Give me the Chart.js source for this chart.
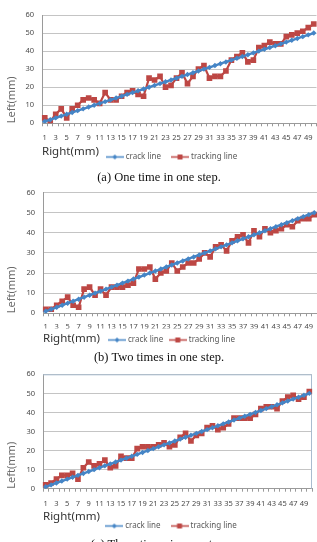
<!DOCTYPE html>
<html>
<head>
<meta charset="utf-8">
<script src="https://cdn.jsdelivr.net/npm/chart.js@4/dist/chart.umd.min.js"></script>
<style>
  body { margin: 0; width: 317px; height: 542px; overflow: hidden; background: #fff; position: relative; }
  canvas { position: absolute; left: 0; }
  .cap { position: absolute; left: 0; width: 318px; text-align: center; font: 12.5px "Liberation Serif", serif; color: #111; line-height: 16px; }
</style>
</head>
<body>
<canvas id="chartA" width="321" height="171" style="top:0px"></canvas>
<canvas id="chartB" width="321" height="174" style="top:180px"></canvas>
<canvas id="chartC" width="320" height="180" style="top:360px"></canvas>
<div class="cap" style="top:169px">(a) One time in one step.</div>
<div class="cap" style="top:349px">(b) Two times in one step.</div>
<div class="cap" style="top:536px">(c) Three times in one step.</div>
<script>
// x categories (Right, mm)
const categories = [1,2,3,4,5,6,7,8,9,10,11,12,13,14,15,16,17,18,19,20,21,22,23,24,25,
                    26,27,28,29,30,31,32,33,34,35,36,37,38,39,40,41,42,43,44,45,46,47,48,49,50];
// crack line, same in all three charts
const crackLine = [1,2,3,4,5,6,7,8,9,10,11,12,13,14,15,16,17,18,19,20,21,22,23,24,25,
                   26,27,28,29,30,31,32,33,34,35,36,37,38,39,40,41,42,43,44,45,46,47,48,49,50];
// tracking line
const trackingOne = [3,1,5,8,3,8,10,13,14,13,11,17,13,13,15,17,18,16,15,25,24,26,20,21,25,
                     28,22,26,30,32,25,26,26,29,35,37,39,34,35,42,43,45,44,44,48,49,50,51,53,55];
const trackingTwo = [2,2,4,6,8,4,3,12,13,9,12,9,13,13,13,14,15,22,22,23,17,20,21,25,21,
                     23,25,25,27,30,28,33,34,31,36,38,39,35,41,38,42,40,41,42,44,43,46,47,47,49];
const trackingThree = [2,3,5,7,7,8,5,11,14,12,13,15,11,12,17,16,16,21,22,22,22,23,24,22,23,
                       27,29,25,28,29,32,33,31,32,34,37,37,37,37,39,42,43,43,42,46,48,49,47,48,51];
const yTicks = [0, 10, 20, 30, 40, 50, 60];

const BLUE = '#4585c6';
const RED = '#bd4744';
const FONT = '"Noto Sans", sans-serif';

// legend icon: short line with the marker in the middle (like excel)
function legendIcon(color, square) {
    const c = document.createElement('canvas');
    c.width = 18; c.height = 7;
    const g = c.getContext('2d');
    g.strokeStyle = color; g.lineWidth = 1.5;
    g.beginPath(); g.moveTo(0, 3.5); g.lineTo(18, 3.5); g.stroke();
    g.fillStyle = color;
    if (square) {
        g.fillRect(6.5, 1, 5, 5);
    } else {
        g.beginPath(); g.moveTo(9, 1); g.lineTo(11.5, 3.5); g.lineTo(9, 6); g.lineTo(6.5, 3.5); g.closePath(); g.fill();
    }
    return c;
}
const icons = [legendIcon(BLUE, false), legendIcon(RED, true)];

// border round the plot area (only chart c has it)
const boxPlugin = {
    id: 'plotBox',
    beforeDatasetsDraw(chart) {
        const a = chart.chartArea, ctx = chart.ctx;
        ctx.save();
        ctx.strokeStyle = '#a9bccf';
        ctx.lineWidth = 1;
        ctx.beginPath();
        ctx.moveTo(a.left, a.top + 0.5); ctx.lineTo(a.right - 0.5, a.top + 0.5); ctx.lineTo(a.right - 0.5, a.bottom);
        ctx.stroke();
        ctx.restore();
    }
};

function makeChart(id, tracking, g) {
    const scales = {
        x: {
            offset: true,
            afterFit: (s) => { s.height = g.xh; },
            grid: { drawOnChartArea: false, drawTicks: true, tickLength: 3, color: '#9a9a9a', offset: true },
            border: { display: true, color: '#9a9a9a' },
            ticks: {
                autoSkip: false, maxRotation: 0, padding: g.tickPad,
                color: '#4a4a4a', font: { family: FONT, size: 7.5 },
                callback: (v, i) => (i % 2 === 0 ? categories[i] : '')
            },
            title: {
                display: true, text: 'Right(mm)', align: 'start',
                color: '#333', font: { family: FONT, size: 11.5 },
                padding: { top: 0, bottom: g.xTitlePad }
            }
        },
        y: {
            min: 0, max: 60,
            afterFit: (s) => { s.width = g.yw; },
            afterBuildTicks: (s) => { s.ticks = yTicks.map(v => ({ value: v })); },
            grid: { color: '#c4c4c4', drawTicks: false },
            border: { display: true, color: '#9a9a9a' },
            ticks: { padding: 8, color: '#4a4a4a', font: { family: FONT, size: 7.5 } },
            title: {
                display: true, text: 'Left(mm)', align: 'start',
                color: '#6a6a6a', font: { family: FONT, size: 11 },
                padding: { top: -18.6, bottom: 0 }
            }
        }
    };
    if (g.rightGap) {
        // empty strip on the right so the plot stops short of the canvas edge
        scales.y2 = {
            position: 'right',
            afterFit: (s) => { s.width = g.rightGap; },
            grid: { display: false },
            border: { display: false },
            ticks: { display: false }
        };
    }
    return new Chart(document.getElementById(id), {
        type: 'line',
        data: {
            labels: categories,
            datasets: [{
                label: 'crack line',
                data: crackLine,
                borderColor: BLUE,
                backgroundColor: BLUE,
                borderWidth: 2.4,
                pointStyle: 'rectRot',
                pointRadius: 2.7,
                pointBorderWidth: 0,
                tension: 0
            }, {
                label: 'tracking line',
                data: tracking,
                borderColor: RED,
                backgroundColor: RED,
                borderWidth: 2.2,
                pointStyle: 'rect',
                pointRadius: 4,
                pointBorderWidth: 0,
                tension: 0
            }]
        },
        options: {
            responsive: false,
            animation: false,
            layout: { padding: { left: 24, top: g.padTop, right: 0, bottom: 0 } },
            plugins: {
                tooltip: { enabled: false },
                legend: {
                    position: 'bottom',
                    align: 'center',
                    labels: {
                        usePointStyle: true,
                        pointStyleWidth: 14,
                        padding: g.legendPad,
                        color: '#595959',
                        font: { family: FONT, size: 8 },
                        generateLabels: (chart) => chart.data.datasets.map((ds, i) => ({
                            text: ds.label,
                            pointStyle: icons[i],
                            fillStyle: ds.borderColor,
                            strokeStyle: ds.borderColor,
                            lineWidth: 0,
                            hidden: false,
                            datasetIndex: i,
                            fontColor: '#595959'
                        }))
                    }
                }
            },
            scales: scales
        },
        plugins: g.box ? [boxPlugin] : []
    });
}

makeChart('chartA', trackingOne,
    { padTop: 15, yw: 18, xh: 17.7, tickPad: 7.2, xTitlePad: -17.9, legendPad: 12, rightGap: 0, box: false });
makeChart('chartB', trackingTwo,
    { padTop: 12.3, yw: 19, xh: 15.2, tickPad: 6, xTitlePad: -17.4, legendPad: 7.5, rightGap: 0, box: false });
makeChart('chartC', trackingThree,
    { padTop: 14.3, yw: 19, xh: 21.3, tickPad: 8, xTitlePad: -13.9, legendPad: 12, rightGap: 8, box: true });
</script>
</body>
</html>
